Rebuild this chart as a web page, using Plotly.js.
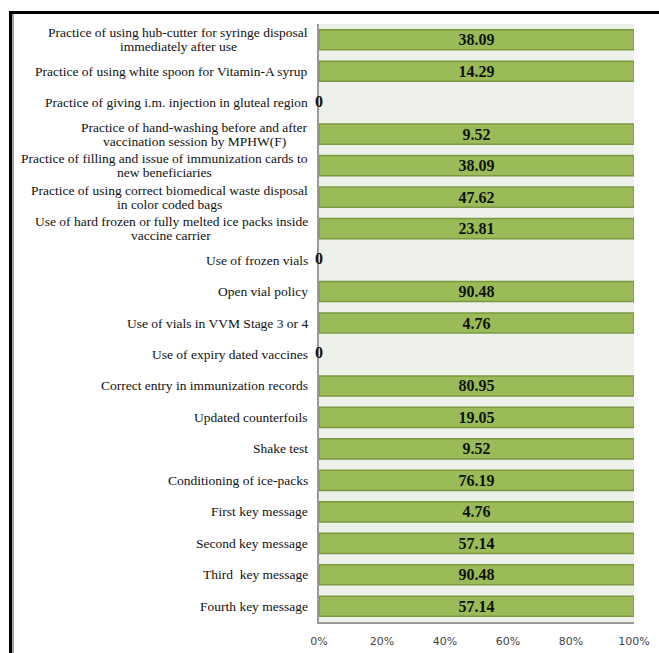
<!DOCTYPE html>
<html>
<head>
<meta charset="utf-8">
<script src="https://cdn.plot.ly/plotly-3.0.1.min.js"></script>
<style>
html,body{margin:0;padding:0;background:#fff;}
#chart{width:659px;height:653px;}
</style>
</head>
<body>
<div id="chart"></div>
<script>
const categories = [
  "Practice of using hub-cutter for syringe disposal<br>immediately after use",
  "Practice of using white spoon for Vitamin-A syrup",
  "Practice of giving i.m. injection in gluteal region",
  "Practice of hand-washing before and after<br>vaccination session by MPHW(F)",
  "Practice of filling and issue of immunization cards to<br>new beneficiaries",
  "Practice of using correct biomedical waste disposal<br>in color coded bags",
  "Use of hard frozen or fully melted ice packs inside<br>vaccine carrier",
  "Use of frozen vials",
  "Open vial policy",
  "Use of vials in VVM Stage 3 or 4",
  "Use of expiry dated vaccines",
  "Correct entry in immunization records",
  "Updated counterfoils",
  "Shake test",
  "Conditioning of ice-packs",
  "First key message",
  "Second key message",
  "Third  key message",
  "Fourth key message"
];
const values = [38.09, 14.29, 0, 9.52, 38.09, 47.62, 23.81, 0, 90.48, 4.76, 0, 80.95, 19.05, 9.52, 76.19, 4.76, 57.14, 90.48, 57.14];
const xTickVals = [0, 20, 40, 60, 80, 100];
const xTickText = ["0%", "20%", "40%", "60%", "80%", "100%"];

const W = 659, H = 653;
const M = {l: 319, r: 25, t: 24, b: 31};
const pw = W - M.l - M.r, ph = H - M.t - M.b;
const px = v => (v - M.l) / pw;
const py = v => 1 - (v - M.t) / ph;

const serif = "Liberation Serif, Times New Roman, serif";
const labelSize = 13.5;
const lineStep = 14;
const labelRight = 308;

const ctx = document.createElement('canvas').getContext('2d');
ctx.font = labelSize + "px 'Liberation Serif'";
const measure = s => ctx.measureText(s).width;

const barTrace = {
  type: 'bar',
  orientation: 'h',
  y: categories,
  x: values,
  text: values.map(v => v.toFixed(2)),
  textposition: 'inside',
  insidetextanchor: 'middle',
  constraintext: 'none',
  textangle: 0,
  textfont: {family: serif, size: 16, color: '#111', weight: 'bold'},
  marker: {color: '#9bbb59', line: {color: '#7a9842', width: 1.5}},
  hoverinfo: 'skip'
};

const zeroTrace = {
  type: 'scatter',
  mode: 'text',
  y: categories,
  x: values,
  text: values.map(v => v === 0 ? '<b>0</b>' : ''),
  textposition: 'middle center',
  textfont: {family: serif, size: 16, color: '#111'},
  cliponaxis: false,
  hoverinfo: 'skip',
  showlegend: false
};

const annotations = [];
categories.forEach(c => {
  const lines = c.split('<br>');
  const maxW = Math.max(...lines.map(measure));
  const centerPx = labelRight - maxW / 2;
  lines.forEach((ln, i) => {
    annotations.push({
      xref: 'paper', yref: 'y',
      x: px(centerPx), y: c,
      xanchor: 'center', yanchor: 'middle',
      yshift: ((lines.length - 1) / 2 - i) * lineStep,
      text: ln,
      showarrow: false,
      borderpad: 0,
      font: {family: serif, size: labelSize, color: '#111'}
    });
  });
});

const shapes = [
  {type: 'path', xref: 'paper', yref: 'paper',
   path: `M ${px(10.5)} ${py(H)} L ${px(10.5)} ${py(12.5)} L ${px(W)} ${py(12.5)}`,
   line: {color: '#000', width: 3}},
  {type: 'line', xref: 'paper', yref: 'paper',
   x0: px(13), x1: px(13), y0: py(14), y1: py(H),
   line: {color: '#a0a0a0', width: 2}}
];

const layout = {
  width: W, height: H,
  margin: M,
  paper_bgcolor: '#fff',
  plot_bgcolor: '#eef1e9',
  showlegend: false,
  barmode: 'stack',
  barnorm: 'percent',
  bargap: 0.36,
  xaxis: {
    range: [0, 100],
    tickvals: xTickVals,
    ticktext: xTickText,
    showgrid: false,
    zeroline: false,
    showline: true,
    linecolor: '#9a9a9a',
    linewidth: 2,
    layer: 'below traces',
    ticks: '',
    ticklabelstandoff: 8,
    tickfont: {family: 'DejaVu Sans, Verdana, sans-serif', size: 11, color: '#444'},
    fixedrange: true
  },
  yaxis: {
    range: [categories.length - 0.5, -0.5],
    type: 'category',
    showticklabels: false,
    showgrid: false,
    zeroline: false,
    showline: true,
    linecolor: '#9a9a9a',
    linewidth: 2,
    layer: 'below traces',
    ticks: '',
    fixedrange: true
  },
  annotations: annotations,
  shapes: shapes
};

Plotly.newPlot('chart', [barTrace, zeroTrace], layout, {displayModeBar: false, staticPlot: true});
</script>
</body>
</html>
